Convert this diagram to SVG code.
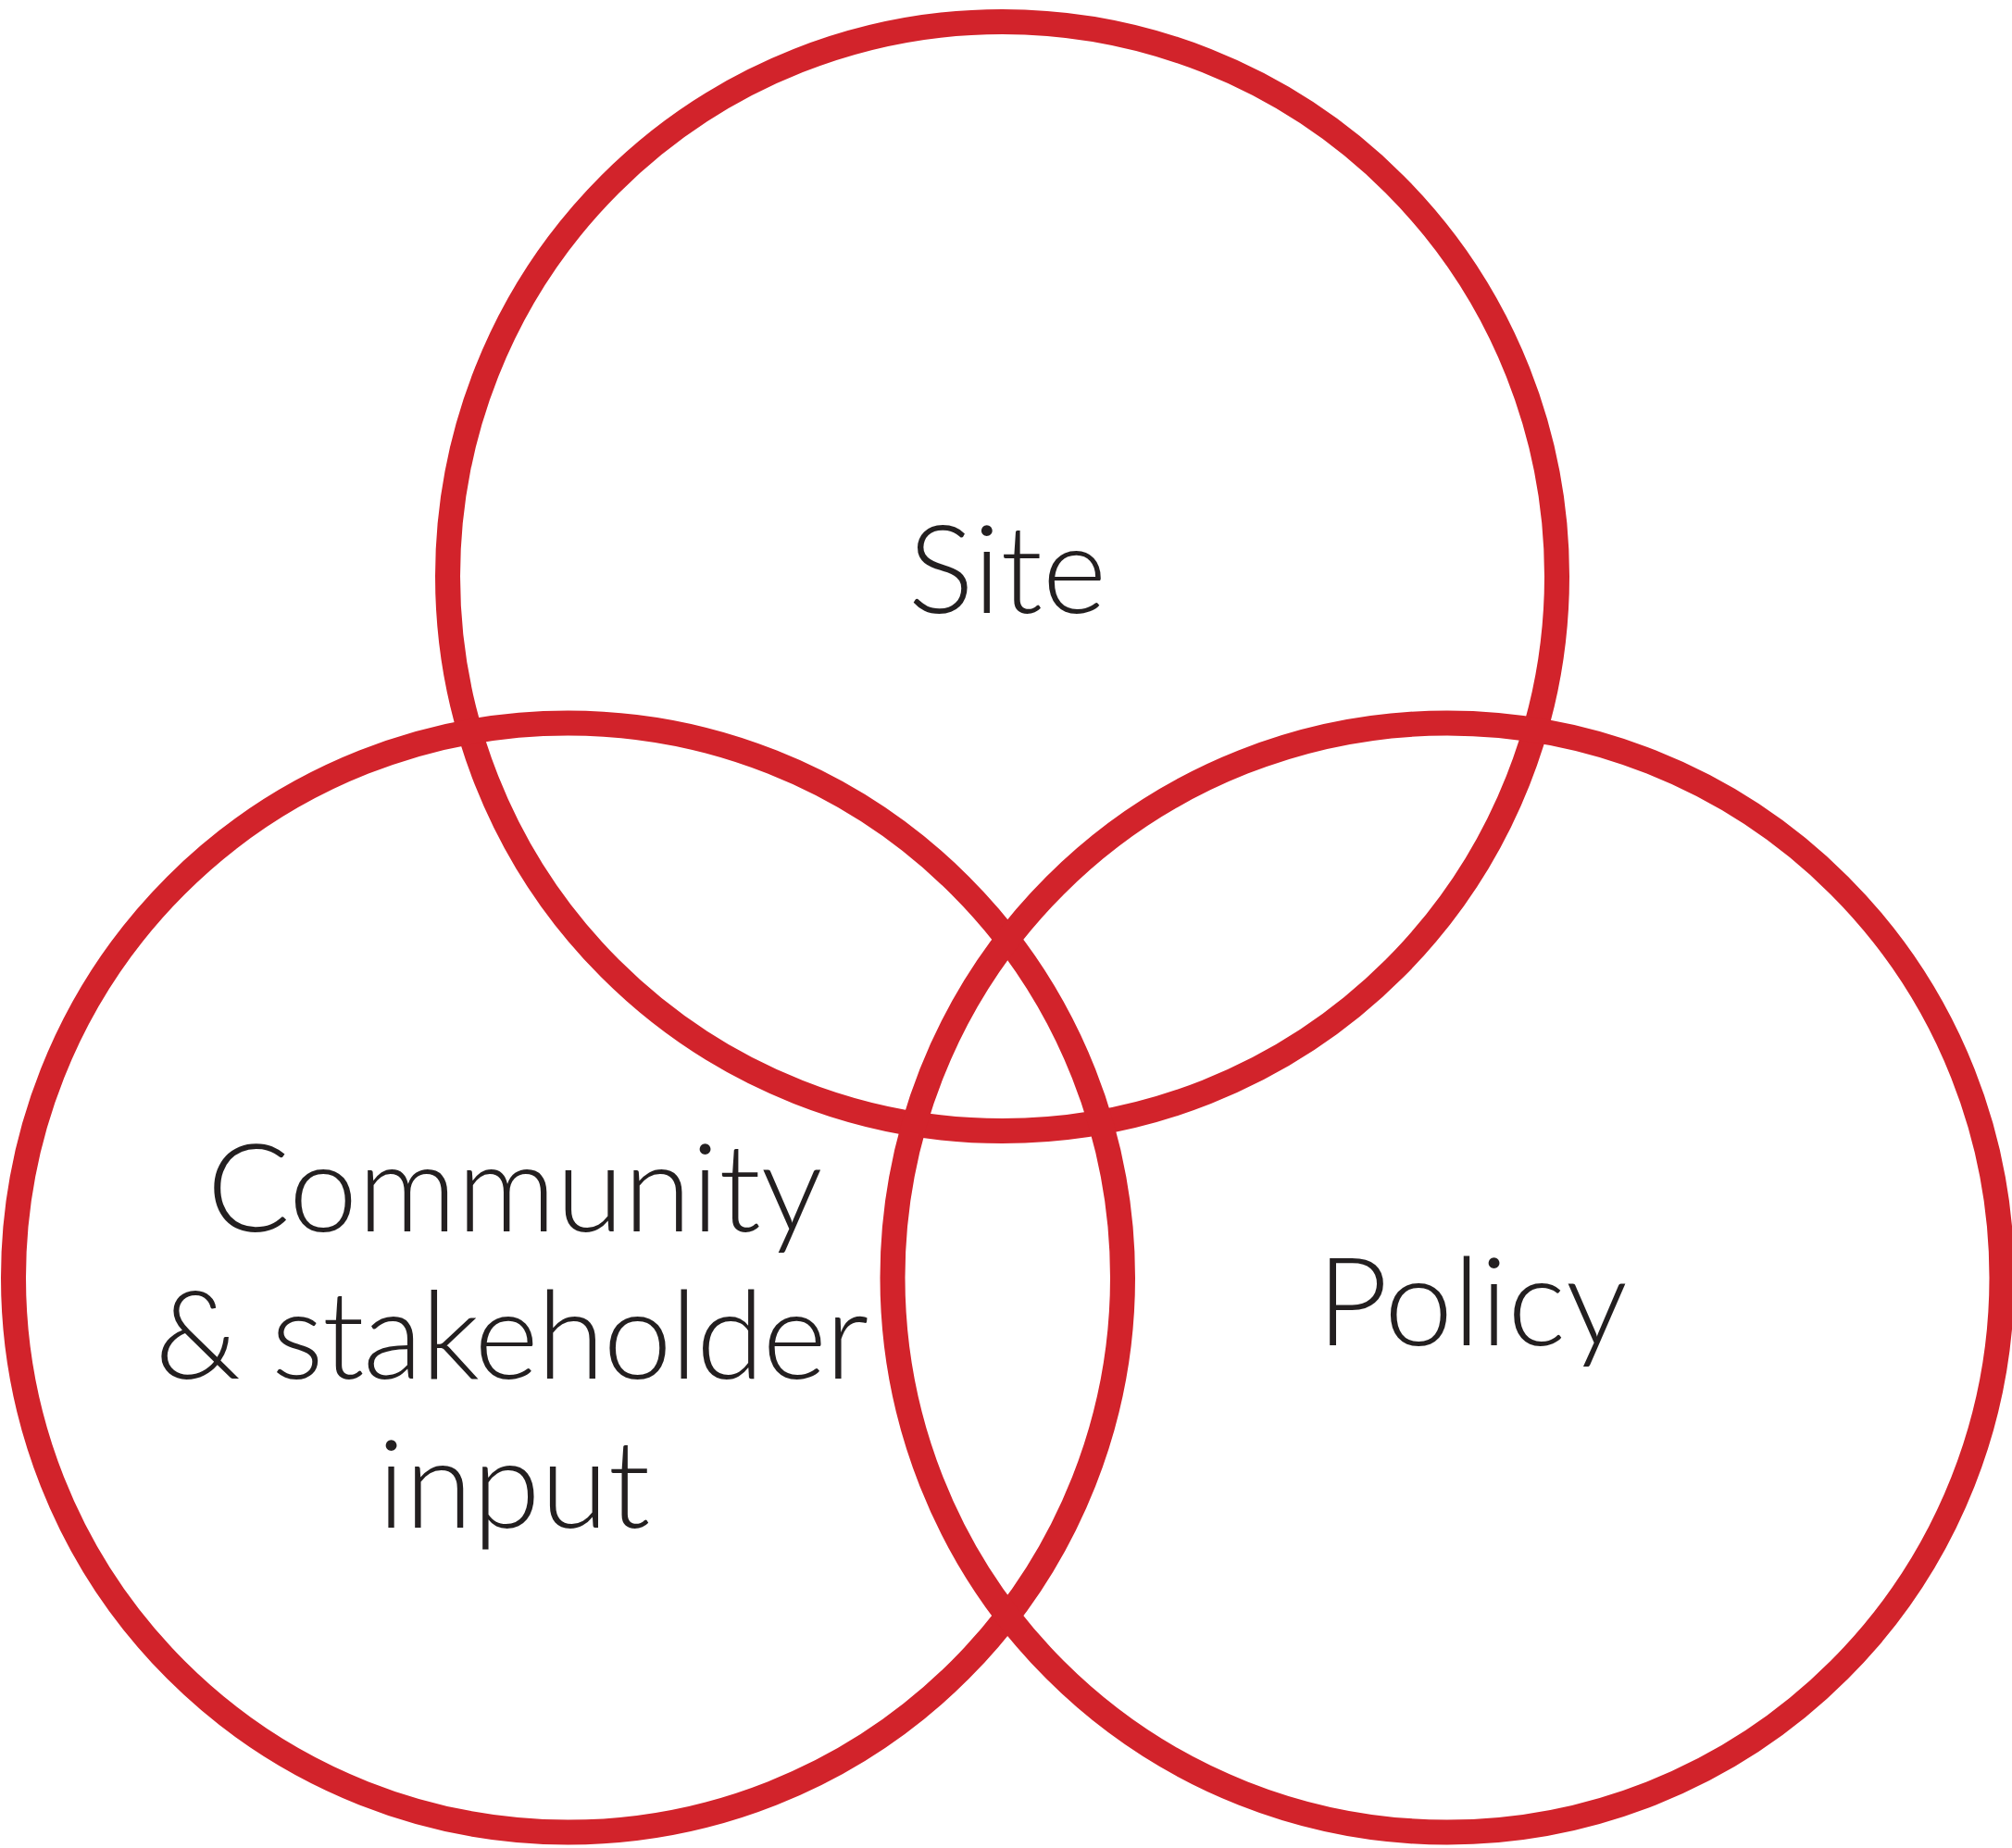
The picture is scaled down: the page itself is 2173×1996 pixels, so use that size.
<svg xmlns="http://www.w3.org/2000/svg" width="2173" height="1996" viewBox="0 0 2173 1996">
<style>
.ring{fill:none;stroke:#D2232B;stroke-width:27}
.lbl{font-family:"Lato","Open Sans","Liberation Sans",sans-serif;font-weight:300;font-size:133px;fill:#231F20;text-anchor:middle}
</style>
<rect width="2173" height="1996" fill="#FFFFFF"/>
<g id="site">
<circle class="ring" cx="1082.5" cy="622.5" r="599"/>
<text class="lbl" x="1088" y="662">Site</text>
</g>
<g id="community">
<circle class="ring" cx="613.5" cy="1380" r="599"/>
<text class="lbl" x="556" y="1330">Community</text>
<text class="lbl" x="552" y="1489" letter-spacing="-1.6">&amp; stakeholder</text>
<text class="lbl" x="555" y="1650">input</text>
</g>
<g id="policy">
<circle class="ring" cx="1563" cy="1380" r="599"/>
<text class="lbl" x="1590" y="1453">Policy</text>
</g>
<g id="connectors"/>
</svg>
